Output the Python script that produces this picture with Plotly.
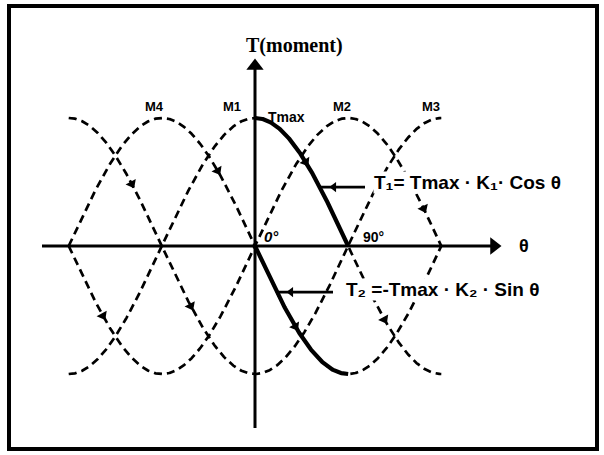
import numpy as np
import plotly.graph_objects as go

# Phase curves M1..M4 (peak angle in degrees), amplitude Tmax = 1
phase_names = ["M1", "M2", "M3", "M4"]
phase_peaks = [0, 90, 180, -90]
theta_span = [-180, 180]

# Driven torque components over 0..90 degrees
torque_span = [0, 90]

# Direction arrows along curves: (curve, angle in degrees)
arrow_curves = ["T1", "T2", "M4", "M3", "M2", "M3", "M1", "M2"]
arrow_thetas = [49, 39, -36, -119, -147, -62, 125, 163]

# Pointer levels for the two formula callouts (fraction of Tmax)
t1_level = 0.46
t2_level = -0.36

# Canvas geometry (pixels)
W, H = 604, 455
PX0, PY0 = 255, 246      # origin on screen
SX, SY = 1.035, 128      # px per degree, px per Tmax


def dx(px):
    return (px - PX0) / SX


def dy(py):
    return (PY0 - py) / SY


def phase(name):
    return phase_peaks[phase_names.index(name)]


def curve_val(name, th):
    r = np.radians(th)
    if name == "T1":
        return np.cos(r)
    if name == "T2":
        return -np.sin(r)
    return np.cos(r - np.radians(phase(name)))


def curve_slope(name, th):
    r = np.radians(th)
    if name == "T1":
        return -np.sin(r)
    if name == "T2":
        return -np.cos(r)
    return -np.sin(r - np.radians(phase(name)))


def line(xs, ys, width, dash="solid"):
    return go.Scatter(x=xs, y=ys, mode="lines",
                      line=dict(color="black", width=width, dash=dash),
                      hoverinfo="skip", showlegend=False)


def marker(xs, ys, symbol, size, angle=0):
    return go.Scatter(x=xs, y=ys, mode="markers",
                      marker=dict(symbol=symbol, size=size, color="black",
                                  angle=angle, line=dict(width=0)),
                      hoverinfo="skip", showlegend=False)


fig = go.Figure()

# coordinate axes
fig.add_trace(line([dx(42), dx(492)], [0, 0], 3))
fig.add_trace(line([0, 0], [dy(428), dy(68)], 3))
fig.add_trace(marker([dx(494)], [0], "triangle-right", 15))
fig.add_trace(marker([0], [dy(66)], "triangle-up", 15))

theta = np.linspace(theta_span[0], theta_span[1], 721)
for name, peak in zip(phase_names, phase_peaks):
    fig.add_trace(line(theta, np.cos(np.radians(theta - peak)), 2.7, "8px,5px"))

th_t = np.linspace(torque_span[0], torque_span[1], 181)
fig.add_trace(line(th_t, np.cos(np.radians(th_t)), 4.2))
fig.add_trace(line(th_t, -np.sin(np.radians(th_t)), 4.2))

# direction markers oriented along each curve
ax_, ay_, ang_ = [], [], []
for c, t in zip(arrow_curves, arrow_thetas):
    ax_.append(t)
    ay_.append(curve_val(c, t))
    slope = curve_slope(c, t) * np.pi / 180
    ang_.append(float(np.degrees(np.arctan2(SX, SY * slope))))
fig.add_trace(marker(ax_, ay_, "triangle-up", 10, ang_))

# callout pointers
t1_theta = np.degrees(np.arccos(t1_level))
t2_theta = np.degrees(np.arcsin(-t2_level))
for th0, lvl, end_px in [(t1_theta, t1_level, 365), (t2_theta, t2_level, 333)]:
    fig.add_trace(line([th0, dx(end_px)], [lvl, lvl], 2.6))
    fig.add_trace(marker([th0 + 14 / SX], [lvl], "triangle-left", 9))

annotations = []
sans = "Liberation Sans"
label_font = dict(family=sans, size=13, color="black")
for name, xp in zip(phase_names, [232, 342, 431, 154]):
    annotations.append(dict(x=dx(xp), y=dy(106), text=f"<b>{name}</b>",
                            showarrow=False, font=label_font))
annotations.append(dict(x=dx(266), y=dy(117), xanchor="left", text="<b>Tmax</b>",
                        showarrow=False, font=dict(family=sans, size=14, color="black")))
annotations.append(dict(x=dx(271), y=dy(236), text="<b><i>0°</i></b>",
                        showarrow=False, font=dict(family=sans, size=15, color="black")))
annotations.append(dict(x=dx(373), y=dy(237), text="<b>90°</b>",
                        showarrow=False, font=dict(family=sans, size=14, color="black")))
annotations.append(dict(x=dx(524), y=dy(246), text="<b>θ</b>",
                        showarrow=False, font=dict(family=sans, size=18, color="black")))
annotations.append(dict(x=dx(294), y=dy(45), text="<b>T(moment)</b>",
                        showarrow=False,
                        font=dict(family="Liberation Serif", size=20, color="black")))
eq_font = dict(family=sans, size=19, color="black")
annotations.append(dict(x=dx(373), y=t1_level + 0.04, xanchor="left",
                        text="<b>T₁= Tmax · K₁· Cos θ</b>",
                        showarrow=False, font=eq_font, bgcolor="white", borderpad=0))
annotations.append(dict(x=dx(345), y=t2_level + 0.02, xanchor="left",
                        text="<b>T₂ =-Tmax · K₂ · Sin θ</b>",
                        showarrow=False, font=eq_font, bgcolor="white", borderpad=0))

# outer frame
shapes = [dict(type="rect", xref="paper", yref="paper",
               x0=9 / W, x1=597 / W, y0=1 - 449 / H, y1=1 - 6 / H,
               line=dict(color="black", width=4))]

fig.update_layout(
    width=W, height=H, margin=dict(l=0, r=0, t=0, b=0),
    font=dict(family=sans, size=13, color="black"),
    paper_bgcolor="white", plot_bgcolor="white",
    xaxis=dict(range=[dx(0), dx(W)], visible=False, fixedrange=True),
    yaxis=dict(range=[dy(H), dy(0)], visible=False, fixedrange=True),
    annotations=annotations, shapes=shapes, showlegend=False,
)

fig.write_html("out.html")
